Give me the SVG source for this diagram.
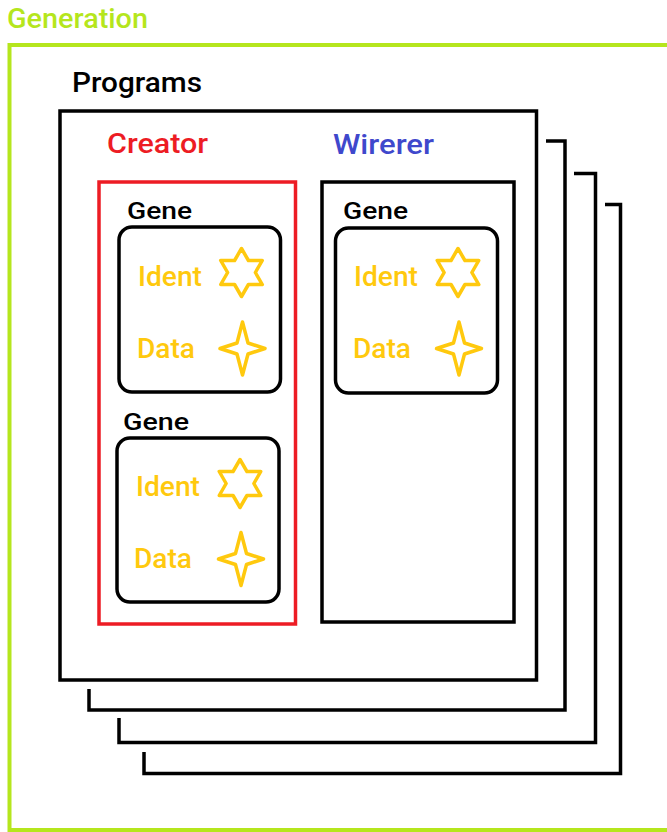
<svg xmlns="http://www.w3.org/2000/svg" xmlns:xlink="http://www.w3.org/1999/xlink" width="667" height="832" viewBox="0 0 667 832">
<style>
  text { font-family: Roboto, "Liberation Sans", sans-serif; font-weight: 500; }
  .title { font-size: 28px; }
  .gene-label { font-size: 24px; fill: #000; }
  .field { font-size: 28px; fill: #ffc90e; }
  .frame { fill: none; stroke: #000; stroke-width: 3.5; }
  .gene { fill: none; stroke: #000; stroke-width: 3.5; }
  .sym { fill: none; stroke: #ffc90e; stroke-width: 3.5; stroke-linejoin: round; }
</style>
<defs>
  <polygon id="hex" points="0,-24 6.93,-12 20.78,-12 13.86,0 20.78,12 6.93,12 0,24 -6.93,12 -20.78,12 -13.86,0 -20.78,-12 -6.93,-12"/>
  <polygon id="star4" points="0,-26.5 5.5,-5.5 22.5,0 5.5,5.5 0,26.5 -5.5,5.5 -22.5,0 -5.5,-5.5"/>
</defs>
<rect width="667" height="832" fill="#fff"/>

<g id="generation">
  <path d="M680,45 H9.5 V830 H680" fill="none" stroke="#b5e61d" stroke-width="4"/>
  <text class="title" x="7" y="27.5" fill="#b5e61d" textLength="141" lengthAdjust="spacingAndGlyphs">Generation</text>
</g>

<g id="programs-stack">
  <path class="frame" d="M546,141 H565 V710 H89 V689"/>
  <path class="frame" d="M574,173.5 H595.5 V742.5 H119 V718"/>
  <path class="frame" d="M605,204.5 H620.5 V773.5 H144 V752"/>
</g>

<g id="programs">
  <rect class="frame" x="60" y="111" width="476.5" height="569"/>
  <text class="title" x="72" y="92" fill="#000" textLength="130" lengthAdjust="spacingAndGlyphs">Programs</text>
</g>

<g id="creator">
  <rect x="99" y="182" width="196.5" height="442" fill="none" stroke="#ed1c24" stroke-width="3.5"/>
  <text class="title" x="107" y="153" fill="#ed1c24" textLength="101" lengthAdjust="spacingAndGlyphs">Creator</text>
</g>

<g id="wirerer">
  <rect class="frame" x="322" y="182" width="192" height="440"/>
  <text class="title" x="333" y="154" fill="#3f48cc" textLength="101" lengthAdjust="spacingAndGlyphs">Wirerer</text>
</g>

<g id="creator-gene-1">
  <rect class="gene" x="119" y="227" width="161.5" height="165" rx="13"/>
  <text class="gene-label" x="127" y="219" textLength="65" lengthAdjust="spacingAndGlyphs">Gene</text>
  <text class="field" x="138" y="286" textLength="64" lengthAdjust="spacingAndGlyphs">Ident</text>
  <use xlink:href="#hex" class="sym" x="241.5" y="272.5"/>
  <text class="field" x="137" y="358" textLength="58" lengthAdjust="spacingAndGlyphs">Data</text>
  <use xlink:href="#star4" class="sym" x="242.5" y="348.5"/>
</g>

<g id="creator-gene-2">
  <rect class="gene" x="117" y="438" width="162" height="164" rx="13"/>
  <text class="gene-label" x="123" y="430" textLength="66" lengthAdjust="spacingAndGlyphs">Gene</text>
  <text class="field" x="136" y="496" textLength="64" lengthAdjust="spacingAndGlyphs">Ident</text>
  <use xlink:href="#hex" class="sym" x="240" y="483.5"/>
  <text class="field" x="134" y="568" textLength="58" lengthAdjust="spacingAndGlyphs">Data</text>
  <use xlink:href="#star4" class="sym" x="241" y="559"/>
</g>

<g id="wirerer-gene">
  <rect class="gene" x="335.5" y="228" width="162" height="165" rx="13"/>
  <text class="gene-label" x="343" y="219" textLength="65" lengthAdjust="spacingAndGlyphs">Gene</text>
  <text class="field" x="354" y="286" textLength="64" lengthAdjust="spacingAndGlyphs">Ident</text>
  <use xlink:href="#hex" class="sym" x="458" y="272.5"/>
  <text class="field" x="353" y="358" textLength="58" lengthAdjust="spacingAndGlyphs">Data</text>
  <use xlink:href="#star4" class="sym" x="459" y="348.5"/>
</g>

<g id="connectors"></g>
</svg>
